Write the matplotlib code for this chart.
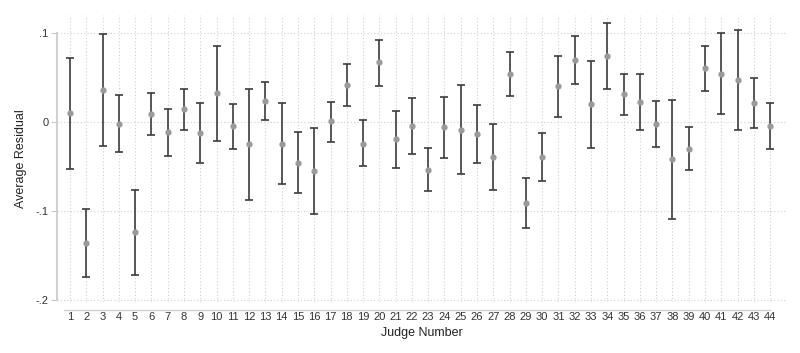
import matplotlib.pyplot as plt
import numpy as np

plt.rcParams['font.family'] = ['Liberation Sans', 'DejaVu Sans']

judges = np.arange(1, 45)
means = [0.0097, -0.1356, 0.0356, -0.0019, -0.124, 0.0094, -0.0116, 0.0142, -0.0124, 0.0322,
         -0.0049, -0.0251, 0.024, -0.0251, -0.0457, -0.0554, 0.0007, 0.0419, -0.0243, 0.067,
         -0.0195, -0.0045, -0.0536, -0.006, -0.009, -0.0135, -0.039, 0.0539, -0.0906, -0.0393,
         0.0401, 0.0697, 0.0199, 0.0745, 0.0311, 0.0225, -0.0019, -0.042, -0.030, 0.0603,
         0.0543, 0.0472, 0.0213, -0.0049]
upper = [0.0723, -0.0974, 0.0985, 0.0307, -0.076, 0.033, 0.015, 0.0375, 0.021, 0.0858,
         0.0202, 0.0371, 0.045, 0.021, -0.0116, -0.0067, 0.0228, 0.0655, 0.0019, 0.0918,
         0.0124, 0.0266, -0.0288, 0.0285, 0.0416, 0.0191, -0.0019, 0.079, -0.0629, -0.0127,
         0.0742, 0.097, 0.0685, 0.1116, 0.0539, 0.0543, 0.024, 0.0243, -0.006, 0.0858,
         0.0996, 0.1037, 0.0491, 0.021]
lower = [-0.0524, -0.1738, -0.0266, -0.0341, -0.172, -0.0146, -0.0386, -0.0094, -0.046, -0.0213,
         -0.0303, -0.088, 0.0026, -0.070, -0.080, -0.1037, -0.0221, 0.0184, -0.0498, 0.0408,
         -0.0513, -0.0356, -0.0779, -0.0401, -0.0588, -0.046, -0.0768, 0.0288, -0.1195, -0.0663,
         0.0056, 0.0427, -0.0288, 0.0371, 0.0079, -0.009, -0.0277, -0.1086, -0.0539, 0.0352,
         0.0094, -0.009, -0.0067, -0.0307]
yticks = [0.1, 0, -0.1, -0.2]
ytick_labels = ['.1', '0', '-.1', '-.2']

means = np.array(means)
yerr = [means - np.array(lower), np.array(upper) - means]

fig = plt.figure(figsize=(8, 3.53), dpi=100)
ax = fig.add_axes([0.07125, 0.1445, 0.9125, 0.813])

ax.errorbar(judges, means, yerr=yerr, fmt='none', ecolor='#3c3c3c', elinewidth=1.2,
            capsize=3, capthick=1.2, zorder=3)
ax.plot(judges, means, 'o', color='#9a9a9a', markersize=3.5, zorder=4)

ax.set_xlim(0.2, 45.04)
ax.set_ylim(-0.2022, 0.1202)
ax.set_xticks(judges)
ax.set_xticklabels([str(j) for j in judges])
ax.set_yticks(yticks)
ax.set_yticklabels(ytick_labels)

ax.grid(True, linestyle=(0, (1, 2)), color='#cfcfcf', linewidth=0.8)
ax.set_axisbelow(True)

# stata-like axes: lines only over the tick range, x axis pushed down a bit
for s in ['top', 'right']:
    ax.spines[s].set_visible(False)
ax.spines['left'].set_color('#d0d0d0')
ax.spines['left'].set_linewidth(1.5)
ax.spines['left'].set_bounds(-0.2, 0.1)
ax.spines['bottom'].set_color('#d0d0d0')
ax.spines['bottom'].set_linewidth(1.0)
ax.spines['bottom'].set_position(('outward', 6))
ax.spines['bottom'].set_bounds(0.6, 44)
ax.tick_params(axis='y', colors='#c8c8c8', labelcolor='#333333', labelsize=8, length=4, pad=2)
ax.tick_params(axis='x', colors='#c8c8c8', labelcolor='#333333', labelsize=8, length=0, pad=1)

ax.set_xlabel('Judge Number', fontsize=9, color='#222222', labelpad=4)
ax.set_ylabel('Average Residual', fontsize=9, color='#222222', labelpad=6)

fig.savefig('out.png', dpi=100)
